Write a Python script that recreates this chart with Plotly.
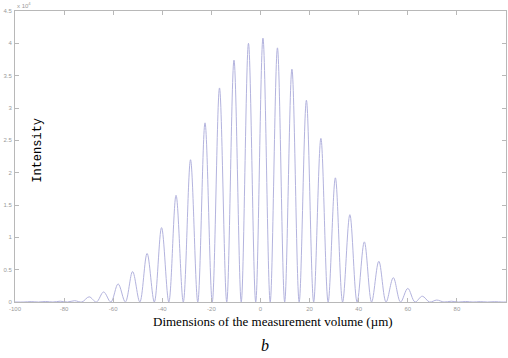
import plotly.graph_objects as go

# Fringe peak positions (µm) and peak intensities (x10^4), left to right
peak_pos = [-93.4, -87.5, -81.6, -75.7, -69.8, -63.9, -58.0, -52.1, -46.2, -40.3,
            -34.4, -28.5, -22.6, -16.7, -10.8, -4.9, 1.0, 6.9, 12.8, 18.7,
            24.6, 30.5, 36.4, 42.3, 48.2, 54.1, 60.0, 65.9, 71.8, 77.7,
            83.6, 89.5, 95.4]
peak_val = [0.006, 0.008, 0.012, 0.02, 0.08, 0.155, 0.28, 0.47, 0.75, 1.15,
            1.65, 2.2, 2.77, 3.31, 3.74, 4.0, 4.08, 3.93, 3.6, 3.12,
            2.53, 1.92, 1.35, 0.93, 0.63, 0.376, 0.21, 0.09, 0.03, 0.012,
            0.008, 0.006, 0.005]

x_ticks = [-100, -80, -60, -40, -20, 0, 20, 40, 60, 80, 100]
y_ticks = [0, 0.5, 1, 1.5, 2, 2.5, 3, 3.5, 4, 4.5]

# Dark fringes: the signal falls to zero halfway between bright fringes
spacing = peak_pos[1] - peak_pos[0]
xs, ys = [-100.0], [0.0]
xs.append(peak_pos[0] - spacing / 2); ys.append(0.0)
for i, (p, v) in enumerate(zip(peak_pos, peak_val)):
    xs.append(p); ys.append(v)
    nxt = peak_pos[i + 1] if i + 1 < len(peak_pos) else p + spacing
    xs.append((p + nxt) / 2); ys.append(0.0)
xs.append(100.0); ys.append(0.0)

fig = go.Figure()
fig.add_trace(go.Scatter(
    x=xs, y=ys, mode="lines",
    line=dict(color="#b3b3de", width=1, shape="spline", smoothing=1.0),
    hoverinfo="skip", showlegend=False,
))

axis_common = dict(
    showgrid=False, zeroline=False, showline=True, linecolor="#b8b8b8",
    linewidth=1, mirror="allticks", ticks="inside", ticklen=4,
    tickcolor="#b8b8b8", tickfont=dict(size=6, color="#9a9a9a",
                                      family="Liberation Sans"),
)
fig.update_xaxes(range=[-100, 100], tickvals=x_ticks,
                 ticktext=[str(t) for t in x_ticks], ticklabelstandoff=1,
                 **axis_common)
fig.update_yaxes(range=[0, 4.5], tickvals=y_ticks,
                 ticktext=[f"{t:g}" for t in y_ticks], ticklabelstandoff=1,
                 **axis_common)

fig.update_layout(
    width=508, height=358,
    margin=dict(l=15, r=2, t=11, b=56),
    paper_bgcolor="white", plot_bgcolor="white",
    annotations=[
        dict(text="x 10<sup>4</sup>", xref="paper", yref="paper", x=0.0,
             y=1.0, xanchor="left", yanchor="bottom", showarrow=False,
             font=dict(size=6, color="#9a9a9a", family="Liberation Sans")),
        dict(text="Dimensions of the measurement volume (µm)", xref="paper",
             yref="paper", x=0.525, y=-0.035, xanchor="center", yanchor="top",
             showarrow=False,
             font=dict(size=13, color="black", family="Liberation Serif")),
        dict(text="Intensity", xref="paper", yref="paper", x=0.047, y=0.52,
             xanchor="center", yanchor="middle", textangle=-90,
             showarrow=False,
             font=dict(size=12, color="black", family="Liberation Mono")),
        dict(text="<i>b</i>", xref="paper", yref="paper", x=0.51,
             y=-0.115, xanchor="center", yanchor="top", showarrow=False,
             font=dict(size=16, color="black", family="Liberation Serif")),
    ],
)

fig.write_html("out.html")
